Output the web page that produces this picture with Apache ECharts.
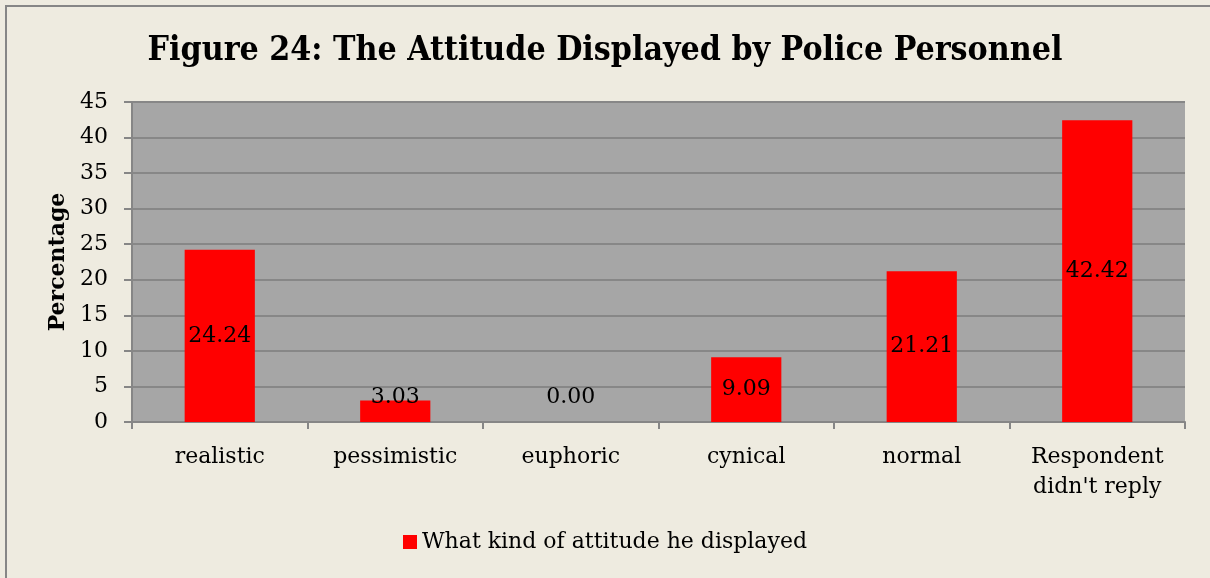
<!DOCTYPE html>
<html>
<head>
<meta charset="utf-8">
<script src="https://cdn.jsdelivr.net/npm/echarts@6/dist/echarts.min.js"></script>
<style>
  html, body { margin: 0; padding: 0; background: #EEEBE0; }
  #chart { width: 1210px; height: 578px; }
</style>
</head>
<body>
<div id="chart"></div>
<script>
// Attitude categories and the share of respondents for each (percent)
const categories = ['realistic', 'pessimistic', 'euphoric', 'cynical', 'normal', "Respondent\ndidn't reply"];
const percentages = [24.24, 3.03, 0.00, 9.09, 21.21, 42.42];
const yTicks = { min: 0, max: 45, interval: 5 };
const seriesName = 'What kind of attitude he displayed';
const titleText = 'Figure 24: The Attitude Displayed by Police Personnel';
const yAxisTitle = 'Percentage';

const serif = "'DejaVu Serif', 'Liberation Serif', serif";
const titleSerif = "'DejaVu Serif Condensed', 'DejaVu Serif', serif";

const chart = echarts.init(document.getElementById('chart'), null, { renderer: 'canvas' });

// Short bars get their label lifted above the baseline so it stays readable
const barData = percentages.map(v => {
  const item = { value: v };
  if (v < 5) {
    item.label = { position: 'insideBottom', distance: 14 };
  }
  return item;
});

chart.setOption({
  backgroundColor: '#EEEBE0',
  animation: false,
  title: {
    text: titleText,
    left: 'center',
    top: 29,
    textStyle: { fontFamily: titleSerif, fontWeight: 'bold', fontSize: 33.6, color: '#000' }
  },
  legend: {
    bottom: 20,
    left: 'center',
    itemWidth: 14,
    itemHeight: 14,
    itemGap: 8,
    icon: 'rect',
    textStyle: { fontFamily: serif, fontSize: 22, color: '#000' },
    data: [seriesName]
  },
  grid: {
    left: 132,
    right: 25,
    top: 102,
    bottom: 156,
    show: true,
    backgroundColor: '#A6A6A6',
    borderWidth: 0
  },
  xAxis: {
    type: 'category',
    data: categories,
    axisLine: { show: true, lineStyle: { color: '#868686', width: 2 } },
    axisTick: { show: true, length: 7, lineStyle: { color: '#868686', width: 2 } },
    axisLabel: {
      fontFamily: serif, fontSize: 22, color: '#000', margin: 20, lineHeight: 30
    }
  },
  yAxis: {
    type: 'value',
    min: yTicks.min,
    max: yTicks.max,
    interval: yTicks.interval,
    name: yAxisTitle,
    nameLocation: 'middle',
    nameGap: 62,
    nameRotate: 90,
    nameTextStyle: { fontFamily: serif, fontWeight: 'bold', fontSize: 22, color: '#000' },
    axisLine: { show: true, lineStyle: { color: '#868686', width: 2 } },
    axisTick: { show: true, length: 8, lineStyle: { color: '#868686', width: 2 } },
    axisLabel: { fontFamily: serif, fontSize: 22, color: '#000', margin: 24 },
    splitLine: { show: true, lineStyle: { color: '#878787', width: 2 } }
  },
  series: [{
    name: seriesName,
    type: 'bar',
    data: barData,
    barWidth: '40%',
    itemStyle: { color: '#FF0000' },
    label: {
      show: true,
      position: 'inside',
      formatter: p => p.value.toFixed(2),
      fontFamily: serif,
      fontSize: 22,
      color: '#000'
    }
  }],
  // Frame lines along the left and top edges of the chart area
  graphic: [{
    type: 'polyline',
    shape: { points: [[6, 578], [6, 6], [1210, 6]] },
    style: { fill: 'none', stroke: '#868686', lineWidth: 2 },
    silent: true
  }]
});
</script>
</body>
</html>
